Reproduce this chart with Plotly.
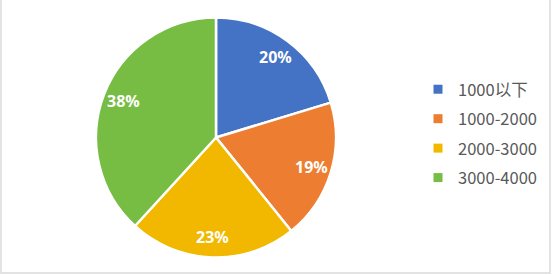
import math
import plotly.graph_objects as go

categories = ["1000以下", "1000-2000", "2000-3000", "3000-4000"]
values = [20.3, 18.9, 22.6, 38.2]
colors = ["#4472C4", "#ED7D31", "#F2B800", "#77BD43"]

W, H = 553, 275
cx, cy, r = 216, 137.5, 120
label_r = 0.83

fig = go.Figure()
fig.add_trace(go.Pie(
    labels=categories, values=values, sort=False, direction="clockwise", rotation=0,
    marker=dict(colors=colors, line=dict(color="white", width=2.5)),
    textinfo="none", showlegend=False, hoverinfo="label+percent",
    domain=dict(x=[(cx - r) / W, (cx + r) / W], y=[1 - (cy + r) / H, 1 - (cy - r) / H]),
))
for cat, col in zip(categories, colors):
    fig.add_trace(go.Scatter(
        x=[None], y=[None], mode="markers", name=cat, legendgroup=cat,
        marker=dict(symbol="square", size=9, color=col), showlegend=True,
    ))

# percentage labels placed along each slice's mid-angle (derived from the values)
total = sum(values)
annotations = []
cum = 0.0
for v in values:
    mid = (cum + v / 2) / total * 2 * math.pi
    cum += v
    px = cx + label_r * r * math.sin(mid)
    py = cy - label_r * r * math.cos(mid)
    annotations.append(dict(
        x=px / W, y=1 - py / H, xref="paper", yref="paper", showarrow=False,
        xanchor="center", yanchor="middle",
        text=f"{round(v / total * 100)}%",
        font=dict(family="Noto Sans", size=16, color="white", weight="bold"),
    ))

fig.update_layout(
    width=W, height=H, margin=dict(l=0, r=0, t=0, b=0),
    paper_bgcolor="white", plot_bgcolor="white",
    xaxis=dict(visible=False), yaxis=dict(visible=False),
    legend=dict(x=418 / W, xanchor="left", y=1 - 72 / H, yanchor="top",
                font=dict(family="Noto Sans CJK SC", size=16.5, color="#595959"),
                tracegroupgap=5, itemsizing="trace", bgcolor="rgba(0,0,0,0)"),
    annotations=annotations,
    shapes=[dict(type="rect", xref="paper", yref="paper", x0=1 / W, x1=550 / W,
                 y0=1 - 273 / H, y1=1.02, line=dict(color="#DADADA", width=1.5))],
)
fig.write_html("out.html")
